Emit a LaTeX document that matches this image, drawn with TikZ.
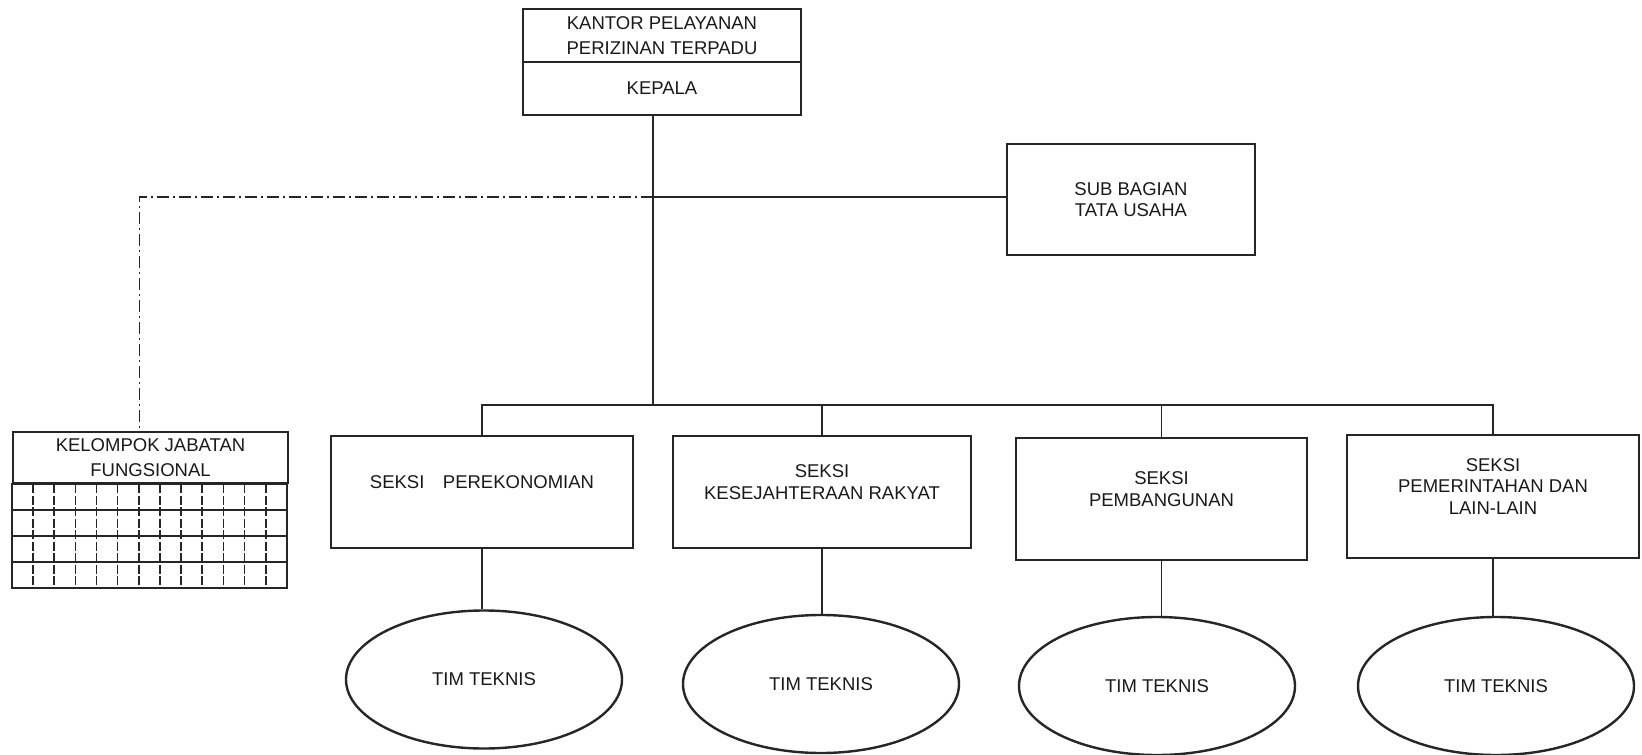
\documentclass[tikz,border=0pt]{standalone}
\usepackage{fontspec}
\setmainfont{Liberation Sans}
\usetikzlibrary{shapes.geometric}
\begin{document}
\begin{tikzpicture}[x=1pt,y=-1pt,
    every node/.style={font=\fontsize{18.5}{21.5}\selectfont, text=black!90, align=center},
    unit/.style={draw=black!85, line width=2.2pt, inner sep=0pt},
    seksi/.style={unit, text depth=20pt},
    tim/.style={ellipse, draw=black!85, line width=2.4pt, minimum width=276pt, minimum height=138pt, inner sep=0pt},
    link/.style={draw=black!85, line width=1.4pt},
    dashlink/.style={link, dash pattern=on 12pt off 4pt on 2pt off 4pt},
    gridrow/.style={draw=black!85, line width=1.6pt},
    gridcol/.style={gridrow, dash pattern=on 9pt off 2.5pt}]
  \useasboundingbox (0,0) rectangle (1642,755);
  \draw
    (662,35.5) node[unit, minimum width=278pt, minimum height=53pt] (kantor){KANTOR PELAYANAN\\[4pt]PERIZINAN TERPADU}
    (662,88.5) node[unit, minimum width=278pt, minimum height=53pt] (kepala){KEPALA}
    (1131,199.5) node[unit, minimum width=248pt, minimum height=111pt] (subbag){SUB BAGIAN\\TATA USAHA}
    (150.5,457.5) node[unit, minimum width=275pt, minimum height=51pt] (jabatan){KELOMPOK JABATAN\\[3pt]FUNGSIONAL}
    (482,492) node[seksi, minimum width=302pt, minimum height=112pt] (s1){SEKSI\quad PEREKONOMIAN}
    (822,492) node[seksi, minimum width=298pt, minimum height=112pt] (s2){SEKSI\\KESEJAHTERAAN RAKYAT}
    (1161.5,499) node[seksi, minimum width=291pt, minimum height=122pt] (s3){SEKSI\\PEMBANGUNAN}
    (1493,496.5) node[seksi, minimum width=292pt, minimum height=123pt] (s4){SEKSI\\PEMERINTAHAN DAN\\LAIN-LAIN}
    (484,679.5) node[tim] (t1){TIM TEKNIS}
    (821,684) node[tim] (t2){TIM TEKNIS}
    (1157,686) node[tim] (t3){TIM TEKNIS}
    (1496,686) node[tim] (t4){TIM TEKNIS};
  % grid under the functional group
  \draw[gridrow, line width=2.2pt] (jabatan.south west) rectangle ++(275,104);
  \foreach \r in {1,2,3}
    \draw[gridrow] ([yshift=-\r*26pt]jabatan.south west) -- ++(275,0);
  \foreach \c in {1,...,12}
    \draw[gridcol] ([xshift=\c*21.15pt]jabatan.south west) -- ++(0,104);
  \coordinate (branch) at (653,197);
  \coordinate (bus) at (653,405);
  \coordinate (jtop) at ([xshift=-11pt]jabatan.north);
  \begin{scope}[link]
    \draw (kepala.south -| bus) to (bus);
    \draw (s1.north) |- (bus) -| (s4.north);
    \draw (s2.north) to (s2.north |- bus);
    \draw (s3.north) to (s3.north |- bus);
    \draw (branch) to (branch -| subbag.west);
    \draw[dashlink] (branch) -| (jtop);
    \draw (s1.south) to (s1.south |- t1.north);
    \draw (s2.south) to (s2.south |- t2.north);
    \draw (s3.south) to (s3.south |- t3.north);
    \draw (s4.south) to (s4.south |- t4.north);
  \end{scope}
\end{tikzpicture}
\end{document}
